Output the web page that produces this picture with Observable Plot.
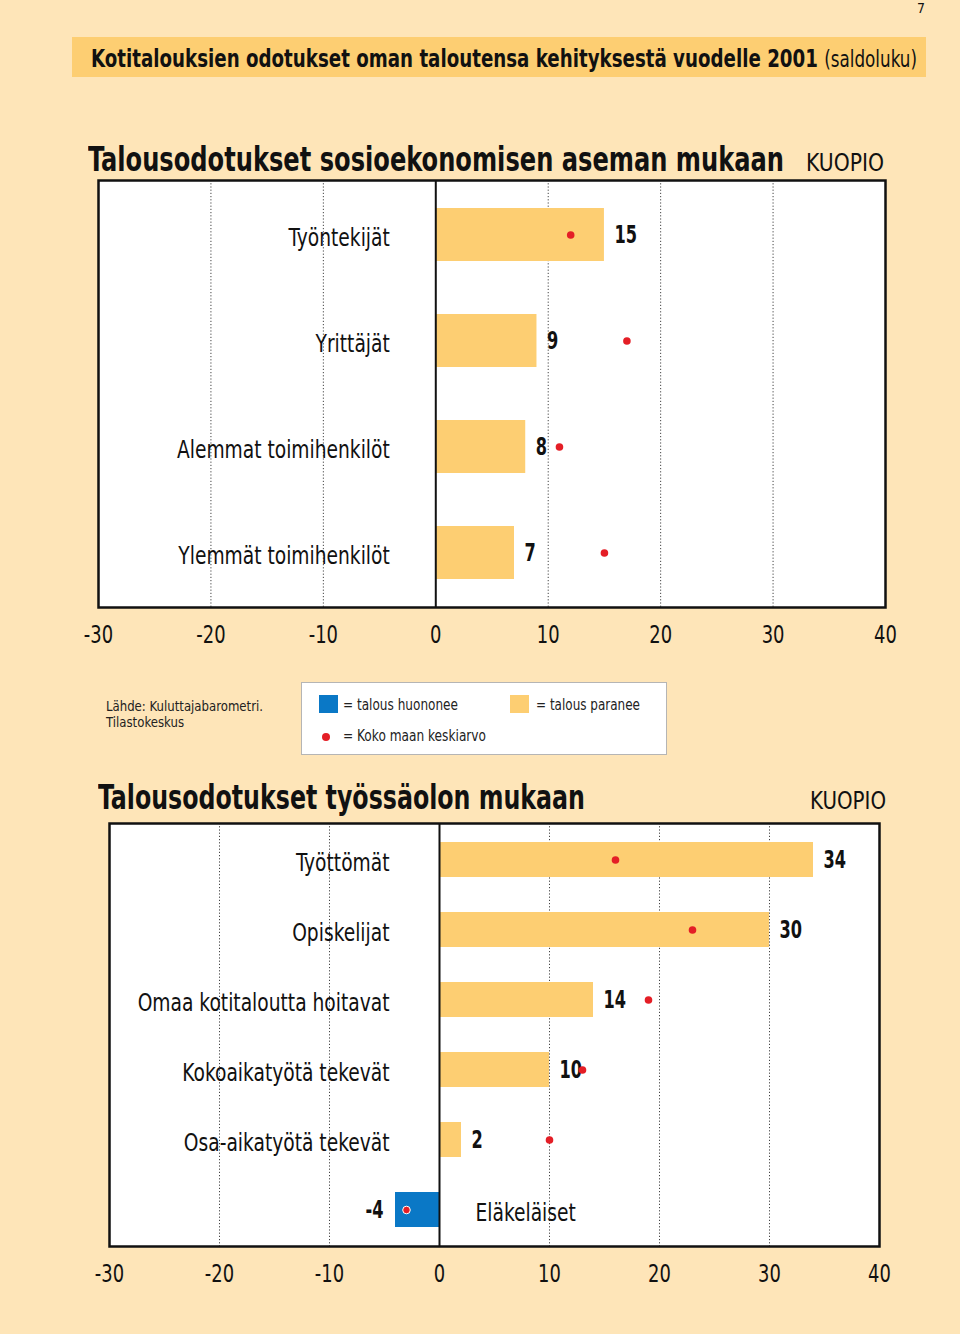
<!DOCTYPE html>
<html>
<head>
<meta charset="utf-8">
<script src="https://cdn.jsdelivr.net/npm/d3@7"></script>
<script src="https://cdn.jsdelivr.net/npm/@observablehq/plot@0.6"></script>
<style>
  html, body { margin: 0; padding: 0; }
  body { width: 960px; height: 1334px; background: #FEE5B8; position: relative; overflow: hidden;
         font-family: "DejaVu Sans Condensed", "DejaVu Sans", sans-serif; color: #111; }
  .abs { position: absolute; white-space: nowrap; line-height: 1; }
  #pagenum { left: 917px; top: 1px; font-size: 14px; }
  #band { left: 72px; top: 37px; width: 854px; height: 40px; background: #FDCE72; }
  #bandtext { left: 91px; top: 46px; font-size: 25px; font-weight: bold; }
  #bandtext span { font-weight: normal; font-size: 23px; }
  .ctitle { font-size: 34px; font-weight: bold; }
  .place { font-size: 25px; }
  #src { left: 106px; top: 698px; font-size: 14px; line-height: 16px; color: #222; }
  #legend { left: 301px; top: 682px; width: 364px; height: 71px; background: #fff; border: 1px solid #b5b5b5; }
  .sw { position: absolute; width: 19px; height: 18px; }
  .lt { position: absolute; font-size: 15px; line-height: 1; white-space: nowrap; color: #222; }
  .chart { position: absolute; left: 0; }
</style>
</head>
<body>
<div class="abs" id="pagenum">7</div>
<div class="abs" id="band"></div>
<div class="abs" id="bandtext">Kotitalouksien odotukset oman taloutensa kehityksestä vuodelle 2001 <span>(saldoluku)</span></div>

<div class="abs ctitle" id="t1" style="left:88px; top:142px;">Talousodotukset sosioekonomisen aseman mukaan</div>
<div class="abs place" id="p1" style="left:806px; top:150px;">KUOPIO</div>
<div class="chart" id="c1" style="top:170px;"></div>

<div class="abs" id="src">Lähde: Kuluttajabarometri.<br>Tilastokeskus</div>
<div class="abs" id="legend">
  <div class="sw" style="left:17px; top:12px; background:#0A78C6;"></div>
  <div class="lt" id="l1" style="left:41px; top:15px;">= talous huononee</div>
  <div class="sw" style="left:208px; top:12px; background:#FDCE72;"></div>
  <div class="lt" id="l2" style="left:234px; top:15px;">= talous paranee</div>
  <div class="sw" style="left:20px; top:50px; width:8px; height:8px; border-radius:50%; background:#E41E26;"></div>
  <div class="lt" id="l3" style="left:41px; top:46px;">= Koko maan keskiarvo</div>
</div>

<div class="abs ctitle" id="t2" style="left:98px; top:780px;">Talousodotukset työssäolon mukaan</div>
<div class="abs place" id="p2" style="left:810px; top:788px;">KUOPIO</div>
<div class="chart" id="c2" style="top:813px;"></div>

<script>
// ---- data ----
const cats1 = ["Työntekijät", "Yrittäjät", "Alemmat toimihenkilöt", "Ylemmät toimihenkilöt"];
const vals1 = [15, 9, 8, 7];
const avg1  = [12, 17, 11, 15];

const cats2 = ["Työttömät", "Opiskelijat", "Omaa kotitaloutta hoitavat", "Kokoaikatyötä tekevät", "Osa-aikatyötä tekevät", "Eläkeläiset"];
const vals2 = [34, 30, 14, 10, 2, -4];
const avg2  = [16, 23, 19, 13, 10, -3];

const xTicks = [-30, -20, -10, 0, 10, 20, 30, 40];
const gridTicks = [-20, -10, 10, 20, 30];

const ORANGE = "#FDCE72", BLUE = "#0A78C6", RED = "#E41E26";
const FONT = '"DejaVu Sans Condensed", "DejaVu Sans", sans-serif';

function makeChart(cats, vals, avgs, opt) {
  const rows = cats.map((c, i) => ({cat: c, v: vals[i], a: avgs[i]}));
  const pos = rows.filter(d => d.v >= 0), neg = rows.filter(d => d.v < 0);
  return Plot.plot({
    width: 960,
    height: opt.height,
    marginLeft: opt.marginLeft,
    marginRight: opt.marginRight,
    marginTop: 10,
    marginBottom: opt.marginBottom,
    style: {background: "transparent", fontFamily: FONT, fontSize: "24px", color: "#111", overflow: "visible"},
    x: {domain: [-30, 40]},
    y: {domain: cats, paddingInner: 0.5, paddingOuter: 0.25, axis: null},
    marks: [
      Plot.frame({fill: "white"}),
      Plot.ruleX(gridTicks, {stroke: "#444", strokeWidth: 1, strokeDasharray: "1.2,2"}),
      Plot.barX(pos, {x: "v", y: "cat", fill: ORANGE}),
      Plot.barX(neg, {x: "v", y: "cat", fill: BLUE}),
      Plot.ruleX([0], {stroke: "#111", strokeWidth: 2}),
      Plot.frame({stroke: "#111", strokeWidth: 2.5}),
      // category labels
      Plot.text(pos, {x: () => 0, y: "cat", text: "cat", textAnchor: "end", dx: opt.labelDx, dy: 3, fontSize: 25}),
      Plot.text(neg, {x: () => 0, y: "cat", text: "cat", textAnchor: "start", dx: 36, dy: 3, fontSize: 25}),
      // value labels
      Plot.text(pos, {x: "v", y: "cat", text: d => String(d.v), textAnchor: "start", dx: 10, fontSize: 25, fontWeight: "bold"}),
      Plot.text(neg, {x: "v", y: "cat", text: d => String(d.v), textAnchor: "end", dx: -12, fontSize: 25, fontWeight: "bold"}),
      // national averages
      Plot.dot(rows, {x: "a", y: "cat", r: 3.8, fill: RED, stroke: d => d.v < 0 ? "white" : "none", strokeWidth: 1}),
      Plot.axisX(xTicks, {anchor: "bottom", tickSize: 0, tickPadding: 18, fontSize: 24, tickFormat: d => String(d)})
    ]
  });
}

// narrow the glyphs (no condensed Helvetica available): horizontal scale about each text's anchor
function condense(svg) {
  svg.querySelectorAll("text").forEach(t => {
    const bold = getComputedStyle(t).fontWeight;
    const s = (bold === "700" || bold === "bold") ? 0.72 : 0.83;
    const tr = t.getAttribute("transform") || "";
    t.setAttribute("transform", tr + ` scale(${s},1)`);
  });
}

const s1 = makeChart(cats1, vals1, avg1, {height: 482, marginLeft: 98, marginRight: 75, marginBottom: 45, labelDx: -46});
document.getElementById("c1").appendChild(s1);
condense(s1);
const s2 = makeChart(cats2, vals2, avg2, {height: 478, marginLeft: 109, marginRight: 81, marginBottom: 45, labelDx: -50});
document.getElementById("c2").appendChild(s2);
condense(s2);

function fitX(id, w) {
  const el = document.getElementById(id);
  const cw = el.getBoundingClientRect().width;
  el.style.transformOrigin = "0 0";
  el.style.transform = `scaleX(${w / cw})`;
}
fitX("bandtext", 826);
fitX("t1", 696);
fitX("p1", 78);
fitX("t2", 487);
fitX("p2", 76);
fitX("src", 157);
fitX("l1", 115);
fitX("l2", 104);
fitX("l3", 143);
</script>
</body>
</html>
